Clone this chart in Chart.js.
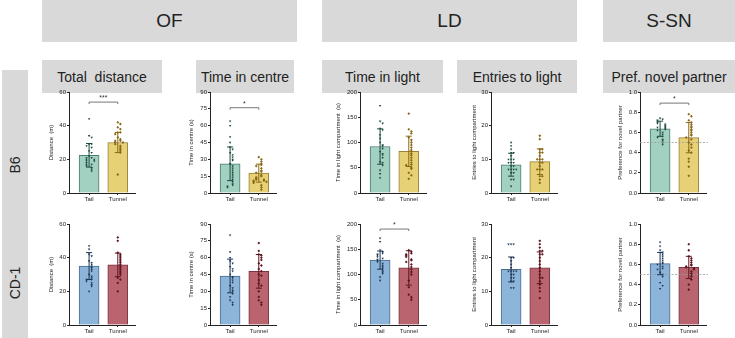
<!DOCTYPE html>
<html><head><meta charset="utf-8">
<script src="https://cdn.jsdelivr.net/npm/chart.js@4.4.0/dist/chart.umd.min.js"></script>
<style>
body{margin:0;width:735px;height:338px;overflow:hidden;background:#fff;font-family:"Liberation Sans",Arial,sans-serif;position:relative}
.box{position:absolute;background:#d9d9d9;color:#222;display:flex;align-items:center;justify-content:center;white-space:pre}
.rot{position:absolute;color:#222;font-size:14px;transform:translate(-50%,-50%) rotate(-90deg);white-space:nowrap}
canvas{position:absolute}
</style></head><body>
<div class="box" style="left:42px;top:0;width:255px;height:42px;font-size:19px">OF</div>
<div class="box" style="left:322px;top:0;width:255px;height:42px;font-size:19px">LD</div>
<div class="box" style="left:603px;top:0;width:132px;height:42px;font-size:19px">S-SN</div>
<div id="subs"></div>
<div class="box" style="left:2px;top:70px;width:26px;height:268px"></div>
<div class="rot" style="left:15px;top:165px">B6</div>
<div class="rot" style="left:15px;top:283px">CD-1</div>
<script>
// ---------------- data ----------------
const groups = ['Tail', 'Tunnel'];
const strains = ['B6', 'CD-1'];
const measures = ['Total  distance', 'Time in centre', 'Time in light', 'Entries to light', 'Pref. novel partner'];
const yTitles = ['Distance  (m)', 'Time in centre (s)', 'Time in light compartment  (s)', 'Entries to light compartment', 'Preference for novel partner'];
const yMax = [60, 90, 200, 30, 1.0];
const yStep = [20, 15, 50, 10, 0.2];

// B6 individual points
const b6DistTail = [44, 34, 33, 29, 29, 28, 27, 25, 24, 22, 21, 21, 20, 20, 19, 19, 18, 17, 17, 16, 15, 14, 13];
const b6DistTunnel = [42, 41, 39, 38, 36, 36, 35, 33, 32, 31, 31, 30, 30, 29, 28, 27, 26, 25, 24, 11];
const b6CentreTail = [64, 60, 50, 45, 41, 39, 36, 34, 32, 30, 29, 26, 24, 22, 20, 18, 16, 14, 12, 10, 8, 7, 6, 5];
const b6CentreTunnel = [32, 30, 28, 26, 25, 24, 22, 20, 19, 18, 16, 15, 14, 13, 12, 12, 11, 11, 10, 10, 9, 7, 5, 3];
const b6LightTail = [173, 142, 138, 128, 125, 115, 108, 100, 95, 93, 88, 82, 78, 75, 70, 62, 60, 55, 45, 38, 30];
const b6LightTunnel = [157, 126, 122, 118, 110, 105, 100, 95, 90, 85, 82, 78, 75, 70, 65, 60, 56, 55, 50, 48, 40, 35, 28];
const b6EntriesTail = [15, 14, 13, 12, 12, 11, 10, 10, 10, 9, 9, 9, 8, 8, 7, 7, 7, 7, 6, 6, 4, 4, 2];
const b6EntriesTunnel = [17, 16, 13, 13, 12, 12, 11, 10, 10, 10, 9, 9, 8, 7, 7, 7, 5, 5, 4, 3];
const b6PrefTail = [0.74, 0.73, 0.72, 0.71, 0.70, 0.69, 0.68, 0.67, 0.66, 0.65, 0.65, 0.64, 0.63, 0.62, 0.60, 0.58, 0.56, 0.55, 0.53, 0.52, 0.50, 0.48];
const b6PrefTunnel = [0.78, 0.76, 0.72, 0.70, 0.68, 0.66, 0.65, 0.63, 0.62, 0.60, 0.58, 0.57, 0.55, 0.53, 0.50, 0.48, 0.45, 0.42, 0.40, 0.34, 0.31, 0.26, 0.17];

// CD-1 individual points
const cdDistTail = [47, 45, 42, 41, 38, 37, 36, 35, 34, 33, 32, 30, 29, 28, 27, 27, 26, 25, 24, 23, 20];
const cdDistTunnel = [52, 50, 43, 42, 41, 40, 39, 38, 37, 36, 35, 34, 33, 32, 31, 30, 28, 27, 25, 20];
const cdCentreTail = [80, 65, 60, 57, 55, 52, 50, 48, 45, 43, 42, 40, 38, 35, 33, 31, 30, 28, 25, 22, 20, 18];
const cdCentreTunnel = [73, 66, 63, 62, 60, 58, 55, 53, 50, 48, 45, 44, 40, 37, 35, 30, 25, 22, 20, 18];
const cdLightTail = [172, 165, 148, 145, 142, 140, 138, 135, 132, 130, 128, 125, 122, 118, 115, 112, 108, 105, 102, 95, 88];
const cdLightTunnel = [148, 145, 142, 140, 138, 135, 130, 128, 125, 120, 115, 110, 105, 100, 88, 75, 60, 55, 50];
const cdEntriesTail = [24, 24, 24, 20, 20, 19, 18, 17, 16, 16, 16, 16, 15, 15, 14, 14, 13, 13, 11, 11];
const cdEntriesTunnel = [25, 24, 23, 22, 22, 21, 21, 20, 19, 18, 17, 16, 15, 14, 14, 13, 12, 11, 10, 8];
const cdPrefTail = [0.82, 0.78, 0.74, 0.72, 0.70, 0.68, 0.66, 0.64, 0.62, 0.61, 0.60, 0.58, 0.56, 0.55, 0.52, 0.50, 0.48, 0.42, 0.39, 0.36];
const cdPrefTunnel = [0.80, 0.74, 0.68, 0.66, 0.64, 0.62, 0.60, 0.59, 0.58, 0.57, 0.56, 0.55, 0.53, 0.51, 0.50, 0.48, 0.45, 0.40, 0.35];

// bar heights (means) and error bars (SD), per measure: [Tail, Tunnel]
const b6Means = [[22.4, 30.0], [26, 17.7], [92, 82.5], [8.4, 9.3], [0.636, 0.548]];
const b6SD = [[7, 6], [15, 8], [35, 30], [3.4, 3.8], [0.075, 0.15]];
const cdMeans = [[35, 35.7], [43.7, 47.8], [128.5, 113], [16.5, 17], [0.608, 0.57]];
const cdSD = [[8, 7], [15, 15], [18, 34], [3.7, 4.7], [0.11, 0.11]];

// significance marks: [strain, measure, level, label]
const sigMarks = [[0, 0, 54, '***'], [0, 1, 76, '*'], [0, 4, 0.89, '*'], [1, 2, 190, '*']];
const chanceLevel = 0.5;

const points = [
  [[b6DistTail, b6DistTunnel], [b6CentreTail, b6CentreTunnel], [b6LightTail, b6LightTunnel], [b6EntriesTail, b6EntriesTunnel], [b6PrefTail, b6PrefTunnel]],
  [[cdDistTail, cdDistTunnel], [cdCentreTail, cdCentreTunnel], [cdLightTail, cdLightTunnel], [cdEntriesTail, cdEntriesTunnel], [cdPrefTail, cdPrefTunnel]]
];
const means = [b6Means, cdMeans];
const sds = [b6SD, cdSD];

// ---------------- styles ----------------
const fills = [['#a2d0c1', '#e7d176'], ['#8db5d9', '#b9646f']];
const borders = [['#4b7d70', '#9a8136'], ['#4a6d90', '#7a3540']];
const dots = [['#1d4a40', '#8a6814'], ['#1d3655', '#5e1520']];

const subBoxes = [[42, 120], [196, 98], [322, 121], [457, 120], [603, 132]];
const axisX = [69, 210, 360, 491, 640];
const yW = [21, 22, 25, 20, 23];
const rowTop = [92, 224];
const PW = 67, PH = 101, PADT = 8, XH = 13, PADR = 3;

const subs = document.getElementById('subs');
measures.forEach((m, i) => {
  const d = document.createElement('div');
  d.className = 'box';
  d.style.cssText = `left:${subBoxes[i][0]}px;top:60px;width:${subBoxes[i][1]}px;height:33px;font-size:14px`;
  d.textContent = m;
  subs.appendChild(d);
});

function swarm(vals, range) {
  const placed = [];
  return vals.map(v => {
    const near = placed.filter(p => Math.abs(p - v) < range * 0.03).length;
    placed.push(v);
    if (near === 0) return 0;
    return (near % 2 ? 1 : -1) * Math.ceil(near / 2) * 0.09;
  });
}

const extras = {
  id: 'extras',
  afterDatasetsDraw(chart) {
    const o = chart.options.plugins.extras;
    const ctx = chart.ctx, xs = chart.scales.x, ys = chart.scales.y, ca = chart.chartArea;
    ctx.save();
    if (o.ref !== null) {
      ctx.strokeStyle = '#9a9a9a'; ctx.lineWidth = 0.8; ctx.setLineDash([2, 1.5]);
      const y = ys.getPixelForValue(o.ref);
      ctx.beginPath(); ctx.moveTo(ca.left, y); ctx.lineTo(ca.right + 2, y); ctx.stroke();
      ctx.setLineDash([]);
    }
    o.means.forEach((m, g) => {
      const x = xs.getPixelForValue(g);
      const y1 = ys.getPixelForValue(m + o.sd[g]);
      const y0 = ys.getPixelForValue(Math.max(0, m - o.sd[g]));
      ctx.strokeStyle = o.colors[g]; ctx.lineWidth = 1;
      ctx.beginPath();
      ctx.moveTo(x, y0); ctx.lineTo(x, y1);
      ctx.moveTo(x - 3, y1); ctx.lineTo(x + 3, y1);
      ctx.moveTo(x - 3, y0); ctx.lineTo(x + 3, y0);
      ctx.stroke();
    });
    if (o.sig) {
      const y = ys.getPixelForValue(o.sig[0]);
      const xa = xs.getPixelForValue(0), xb = xs.getPixelForValue(1);
      ctx.strokeStyle = '#555'; ctx.lineWidth = 0.8;
      ctx.beginPath(); ctx.moveTo(xa, y + 2); ctx.lineTo(xa, y); ctx.lineTo(xb, y); ctx.lineTo(xb, y + 2); ctx.stroke();
      ctx.fillStyle = '#333'; ctx.font = '7px "Liberation Sans", Arial'; ctx.textAlign = 'center'; ctx.textBaseline = 'bottom';
      ctx.fillText(o.sig[1], (xa + xb) / 2, y - 0.5);
    }
    ctx.restore();
  }
};

for (let r = 0; r < 2; r++) {
  for (let c = 0; c < 5; c++) {
    const cv = document.createElement('canvas');
    const w = yW[c] + PW + PADR, h = PADT + PH + XH;
    cv.width = w; cv.height = h;
    cv.style.left = (axisX[c] - yW[c]) + 'px';
    cv.style.top = (rowTop[r] - PADT) + 'px';
    document.body.appendChild(cv);

    const datasets = [{
      type: 'bar',
      data: groups.map((g, i) => ({ x: i, y: means[r][c][i] })),
      backgroundColor: fills[r], borderColor: borders[r], borderWidth: 1,
      barThickness: 20, order: 2
    }];
    groups.forEach((g, i) => {
      const vals = points[r][c][i];
      const offs = swarm(vals, yMax[c]);
      datasets.push({
        type: 'scatter',
        data: vals.map((v, k) => ({ x: i + offs[k], y: v })),
        pointStyle: i === 0 ? 'triangle' : 'rectRot',
        rotation: i === 0 ? 180 : 0,
        pointRadius: 1.4, borderWidth: 0,
        backgroundColor: dots[r][i], borderColor: dots[r][i], order: 1
      });
    });
    const sig = sigMarks.find(s => s[0] === r && s[1] === c);
    const tickFont = { family: '"Liberation Sans", Arial, sans-serif', size: 6 };
    new Chart(cv, {
      type: 'bar',
      data: { datasets },
      plugins: [extras],
      options: {
        responsive: false, animation: false, events: [],
        layout: { padding: { top: PADT, right: PADR, left: 0, bottom: 0 } },
        plugins: {
          legend: { display: false }, tooltip: { enabled: false },
          extras: {
            means: means[r][c], sd: sds[r][c], colors: dots[r],
            ref: c === 4 ? chanceLevel : null,
            sig: sig ? [sig[2], sig[3]] : null
          }
        },
        scales: {
          x: {
            type: 'linear', min: -0.7, max: 1.6, offset: false,
            afterBuildTicks: s => { s.ticks = [{ value: 0 }, { value: 1 }]; },
            afterFit: s => { s.height = XH; },
            ticks: { callback: v => groups[v], font: tickFont, color: '#222', padding: 1, maxRotation: 0, autoSkip: false },
            grid: { offset: false, drawOnChartArea: false, drawTicks: true, tickLength: 2, color: '#222' },
            border: { color: '#222', width: 1 }
          },
          y: {
            min: 0, max: yMax[c],
            afterFit: s => { s.width = yW[c]; },
            ticks: { stepSize: yStep[c], font: tickFont, color: '#222', padding: 1,
              callback: v => c === 4 ? v.toFixed(1) : v },
            grid: { drawOnChartArea: false, drawTicks: true, tickLength: 2, color: '#222' },
            border: { color: '#222', width: 1 },
            title: { display: true, text: yTitles[c], font: { family: '"Liberation Sans", Arial, sans-serif', size: 6 }, color: '#222', padding: { top: 0, bottom: 1 } }
          }
        }
      }
    });
  }
}
</script>
</body></html>
